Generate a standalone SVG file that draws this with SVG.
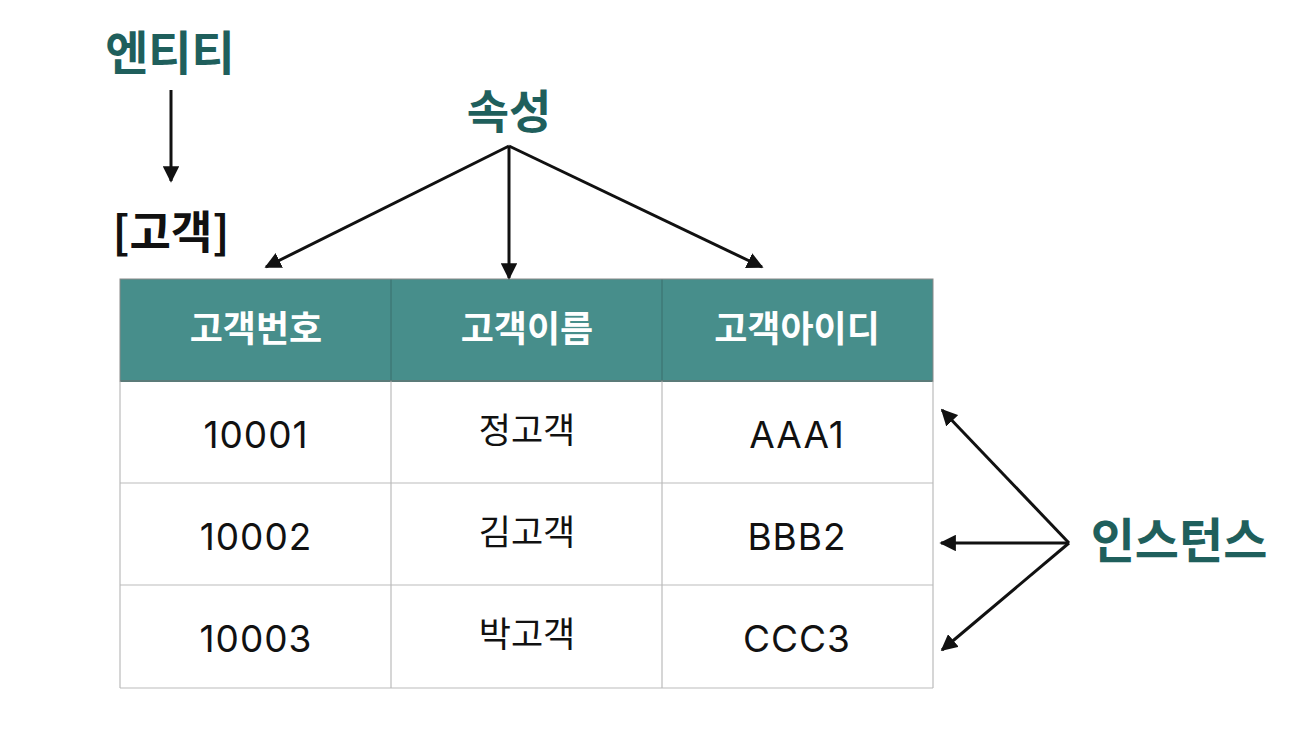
<svg xmlns="http://www.w3.org/2000/svg" width="1300" height="737" viewBox="0 0 1300 737">
<style>
.lbl{font-family:"Noto Sans CJK KR","Noto Sans",sans-serif;font-weight:700;fill:#1f5f5c;text-anchor:middle}
.hd{font-family:"Noto Sans CJK KR","Noto Sans",sans-serif;font-weight:700;fill:#ffffff;font-size:36px;text-anchor:middle}
.cell{font-family:Inter,"Noto Sans CJK KR",sans-serif;font-weight:400;fill:#111;font-size:37px;letter-spacing:1px;text-anchor:middle}
.kcell{font-family:"Noto Sans CJK KR","Noto Sans",sans-serif;font-weight:400;fill:#111;font-size:35px;text-anchor:middle}
.ln{stroke:#111;stroke-width:3;fill:none;marker-end:url(#ah)}
.grid{stroke:#bbbbbb;stroke-width:1.2;fill:none}
</style>
<defs>
<marker id="ah" viewBox="0 0 10 10" refX="9" refY="5" markerWidth="5.5" markerHeight="5.5" orient="auto" markerUnits="strokeWidth">
<path d="M0,0 L10,5 L0,10 z" fill="#111"/>
</marker>
</defs>
<rect width="1300" height="737" fill="#ffffff"/>
<g id="entity-label"><text class="lbl" x="170" y="70" font-size="47">엔티티</text></g>
<g id="attr-label"><text class="lbl" x="509" y="128" font-size="46">속성</text></g>
<g id="instance-label"><text class="lbl" x="1179" y="558" font-size="48">인스턴스</text></g>
<g id="entity-name"><text x="171" y="249" font-family="Noto Sans CJK KR,sans-serif" font-weight="700" font-size="45" fill="#111" text-anchor="middle">[고객]</text></g>
<g id="table">
<rect x="120" y="279" width="813" height="102" fill="#478e8b"/>
<rect x="120" y="381" width="813" height="307" fill="#ffffff"/>
<line x1="120" y1="381" x2="933" y2="381" stroke="#2f6e6b" stroke-width="2"/>
<line class="grid" x1="120" y1="483" x2="933" y2="483"/>
<line class="grid" x1="120" y1="585" x2="933" y2="585"/>
<line class="grid" x1="120" y1="688" x2="933" y2="688"/>
<line class="grid" x1="120" y1="381" x2="120" y2="688"/>
<line class="grid" x1="391" y1="381" x2="391" y2="688"/>
<line class="grid" x1="662" y1="381" x2="662" y2="688"/>
<line class="grid" x1="933" y1="381" x2="933" y2="688"/>
<line x1="391" y1="279" x2="391" y2="381" stroke="#3a6f6c" stroke-width="1"/>
<line x1="662" y1="279" x2="662" y2="381" stroke="#3a6f6c" stroke-width="1"/>
<rect x="120" y="279" width="813" height="102" fill="none" stroke="#888" stroke-width="1"/>
<text class="hd" x="256" y="342">고객번호</text>
<text class="hd" x="527" y="342">고객이름</text>
<text class="hd" x="797" y="342">고객아이디</text>
<text class="cell" x="256" y="448">10001</text>
<text class="kcell" x="527" y="443">정고객</text>
<text class="cell" x="797" y="448">AAA1</text>
<text class="cell" x="256" y="550">10002</text>
<text class="kcell" x="527" y="545">김고객</text>
<text class="cell" x="797" y="550">BBB2</text>
<text class="cell" x="256" y="652">10003</text>
<text class="kcell" x="527" y="647">박고객</text>
<text class="cell" x="797" y="652">CCC3</text>
</g>
<g id="connectors">
<line class="ln" x1="171" y1="90" x2="171" y2="181"/>
<line class="ln" x1="509" y1="146" x2="266" y2="267"/>
<line class="ln" x1="509" y1="146" x2="509" y2="278"/>
<line class="ln" x1="509" y1="146" x2="762" y2="267"/>
<line class="ln" x1="1069" y1="543" x2="942" y2="410"/>
<line class="ln" x1="1069" y1="543" x2="941" y2="543"/>
<line class="ln" x1="1069" y1="543" x2="942" y2="650"/>
</g>
</svg>
